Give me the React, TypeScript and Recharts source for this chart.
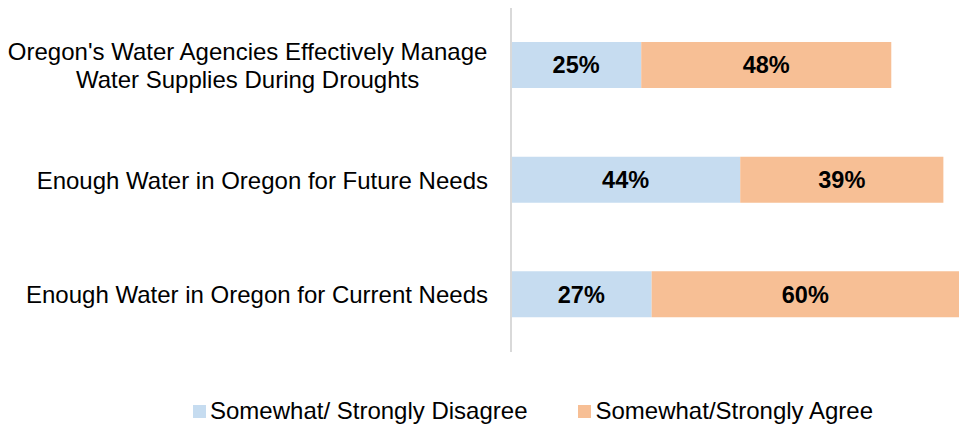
import { BarChart, Bar, XAxis, YAxis, Legend, LabelList } from "recharts";

const categories = [
  "Oregon's Water Agencies Effectively Manage|Water Supplies During Droughts",
  "Enough Water in Oregon for Future Needs",
  "Enough Water in Oregon for Current Needs",
];
const disagree = [25, 44, 27];
const agree = [48, 39, 60];

const seriesNames = ["Somewhat/ Strongly Disagree", "Somewhat/Strongly Agree"];
const colors = ["#c6dcf0", "#f7bf95"];

const data = categories.map((name, i) => ({
  name,
  disagree: disagree[i],
  agree: agree[i],
}));

const FONT = "'Liberation Sans', Arial, sans-serif";
const TICK_FONT_SIZE = 24;

let ctx: CanvasRenderingContext2D | null = null;
function textWidth(s: string) {
  if (!ctx) ctx = document.createElement("canvas").getContext("2d");
  if (!ctx) return s.length * TICK_FONT_SIZE * 0.5;
  ctx.font = `${TICK_FONT_SIZE}px ${FONT}`;
  return ctx.measureText(s).width;
}

// category labels: block right-aligned to the axis, lines centred within it
function CategoryTick(props: any) {
  const { x, y, payload } = props;
  const lines: string[] = String(payload.value).split("|");
  const lineHeight = 28;
  const startY = y - ((lines.length - 1) * lineHeight) / 2;
  const blockW = Math.max(...lines.map(textWidth));
  const cx = lines.length > 1 ? x - blockW / 2 : x;
  return (
    <text
      x={cx}
      y={startY}
      textAnchor={lines.length > 1 ? "middle" : "end"}
      fontFamily={FONT}
      fontSize={TICK_FONT_SIZE}
      fill="#000"
    >
      {lines.map((line, i) => (
        <tspan key={i} x={cx} y={startY + i * lineHeight} dominantBaseline="central">
          {line}
        </tspan>
      ))}
    </text>
  );
}

function LegendContent() {
  return (
    <div
      style={{
        display: "flex",
        paddingLeft: 193,
        fontFamily: FONT,
        fontSize: 24,
        lineHeight: "26px",
        color: "#000",
      }}
    >
      {seriesNames.map((n, i) => (
        <div
          key={n}
          style={{ display: "flex", alignItems: "center", marginRight: i === 0 ? 51 : 0 }}
        >
          <span
            style={{
              display: "inline-block",
              width: 13,
              height: 13,
              background: colors[i],
              marginRight: 4,
            }}
          />
          <span>{n}</span>
        </div>
      ))}
    </div>
  );
}

export default function App() {
  return (
    <div style={{ position: "absolute", left: 0, top: 0, width: 959, height: 427, background: "#fff" }}>
      <BarChart
        layout="vertical"
        width={959}
        height={427}
        data={data}
        margin={{ top: 8, right: 0, bottom: 49, left: 0 }}
      >
        <XAxis type="number" hide domain={[0, 86]} allowDataOverflow />
        <YAxis
          type="category"
          dataKey="name"
          width={511}
          axisLine={{ stroke: "#d9d9d9", strokeWidth: 2 }}
          tickLine={false}
          tickMargin={17}
          tick={<CategoryTick />}
          interval={0}
        />
        <Legend
          verticalAlign="bottom"
          content={<LegendContent />}
          wrapperStyle={{ left: 0, bottom: 3, width: 959 }}
        />
        <Bar dataKey="disagree" stackId="a" fill={colors[0]} barSize={46} isAnimationActive={false}>
          <LabelList
            dataKey="disagree"
            position="center"
            formatter={(v: any) => `${v}%`}
            fill="#000"
            fontWeight="bold"
            fontSize={23.5}
            fontFamily={FONT}
          />
        </Bar>
        <Bar dataKey="agree" stackId="a" fill={colors[1]} barSize={46} isAnimationActive={false}>
          <LabelList
            dataKey="agree"
            position="center"
            formatter={(v: any) => `${v}%`}
            fill="#000"
            fontWeight="bold"
            fontSize={23.5}
            fontFamily={FONT}
          />
        </Bar>
      </BarChart>
    </div>
  );
}
